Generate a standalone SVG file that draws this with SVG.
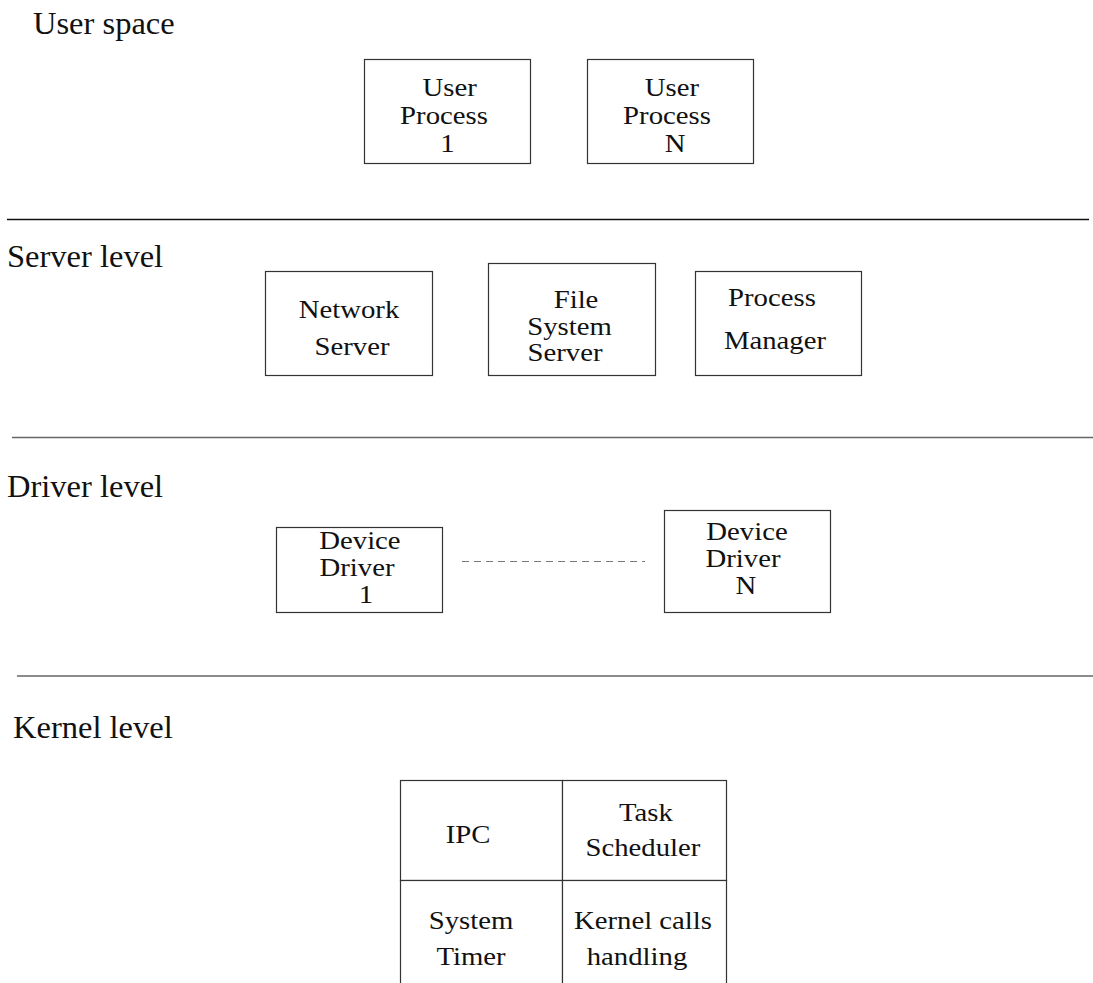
<svg xmlns="http://www.w3.org/2000/svg" width="1093" height="983" viewBox="0 0 1093 983">
  <style>
    .bg { fill: #ffffff; }
    .lvl { font-family: "Liberation Serif", "Times New Roman", serif; font-size: 32.5px; fill: #111; }
    .t { font-family: "Liberation Serif", "Times New Roman", serif; font-size: 25px; fill: #111; text-anchor: middle; }
    .box { fill: #ffffff; stroke: #333; stroke-width: 1.2; }
    .sep-dark { stroke: #111; stroke-width: 1.4; }
    .sep { stroke: #666; stroke-width: 1.6; }
    .dash { stroke: #777; stroke-width: 1.1; stroke-dasharray: 7 5; fill: none; }
  </style>
  <rect class="bg" x="0" y="0" width="1093" height="983"/>

  <!-- level titles -->
  <g id="level-labels">
    <text class="lvl" x="33" y="34">User space</text>
    <text class="lvl" x="7" y="267">Server level</text>
    <text class="lvl" x="7" y="497">Driver level</text>
    <text class="lvl" x="13" y="738">Kernel level</text>
  </g>

  <!-- separators between levels -->
  <g id="separators">
    <line class="sep-dark" x1="7" y1="219.5" x2="1089" y2="219.5"/>
    <line class="sep" x1="12" y1="437.5" x2="1093" y2="437.5"/>
    <line class="sep" x1="17" y1="676" x2="1093" y2="676"/>
  </g>

  <!-- user space -->
  <g id="user-process-1">
    <rect class="box" x="364.5" y="59.5" width="166" height="104"/>
    <g transform="scale(1.15 1)">
      <text class="t" x="391.0" y="96">User</text>
      <text class="t" x="386.1" y="124">Process</text>
      <text class="t" x="389.1" y="152">1</text>
    </g>
  </g>
  <g id="user-process-n">
    <rect class="box" x="587.5" y="59.5" width="166" height="104"/>
    <g transform="scale(1.15 1)">
      <text class="t" x="584.3" y="96">User</text>
      <text class="t" x="580.0" y="124">Process</text>
      <text class="t" x="587.0" y="152">N</text>
    </g>
  </g>

  <!-- server level -->
  <g id="network-server">
    <rect class="box" x="265.5" y="271.5" width="167" height="104"/>
    <g transform="scale(1.15 1)">
      <text class="t" x="303.5" y="318">Network</text>
      <text class="t" x="306.1" y="355">Server</text>
    </g>
  </g>
  <g id="file-system-server">
    <rect class="box" x="488.5" y="263.5" width="167" height="112"/>
    <g transform="scale(1.15 1)">
      <text class="t" x="500.9" y="308">File</text>
      <text class="t" x="495.2" y="335">System</text>
      <text class="t" x="491.3" y="361">Server</text>
    </g>
  </g>
  <g id="process-manager">
    <rect class="box" x="695.5" y="271.5" width="166" height="104"/>
    <g transform="scale(1.15 1)">
      <text class="t" x="671.3" y="306">Process</text>
      <text class="t" x="673.9" y="349">Manager</text>
    </g>
  </g>

  <!-- driver level -->
  <g id="device-driver-1">
    <rect class="box" x="276.5" y="527.5" width="166" height="85"/>
    <g transform="scale(1.15 1)">
      <text class="t" x="313.0" y="549">Device</text>
      <text class="t" x="310.4" y="576">Driver</text>
      <text class="t" x="318.3" y="603">1</text>
    </g>
  </g>
  <g id="device-driver-n">
    <rect class="box" x="664.5" y="510.5" width="166" height="102"/>
    <g transform="scale(1.15 1)">
      <text class="t" x="649.6" y="540">Device</text>
      <text class="t" x="646.1" y="567">Driver</text>
      <text class="t" x="648.7" y="594">N</text>
    </g>
  </g>

  <g id="connectors">
    <line class="dash" x1="462" y1="561.5" x2="645" y2="561.5"/>
  </g>

  <!-- kernel level: 2x2 block of kernel parts -->
  <g id="kernel-ipc">
    <rect class="box" x="400.5" y="780.5" width="162" height="100"/>
    <g transform="scale(1.15 1)">
      <text class="t" x="407.0" y="843">IPC</text>
    </g>
  </g>
  <g id="kernel-task-scheduler">
    <rect class="box" x="562.5" y="780.5" width="164" height="100"/>
    <g transform="scale(1.15 1)">
      <text class="t" x="561.7" y="821">Task</text>
      <text class="t" x="559.1" y="856">Scheduler</text>
    </g>
  </g>
  <g id="kernel-system-timer">
    <rect class="box" x="400.5" y="880.5" width="162" height="110"/>
    <g transform="scale(1.15 1)">
      <text class="t" x="409.6" y="929">System</text>
      <text class="t" x="409.6" y="965">Timer</text>
    </g>
  </g>
  <g id="kernel-calls-handling">
    <rect class="box" x="562.5" y="880.5" width="164" height="110"/>
    <g transform="scale(1.15 1)">
      <text class="t" x="559.1" y="929">Kernel calls</text>
      <text class="t" x="553.9" y="965">handling</text>
    </g>
  </g>
</svg>
